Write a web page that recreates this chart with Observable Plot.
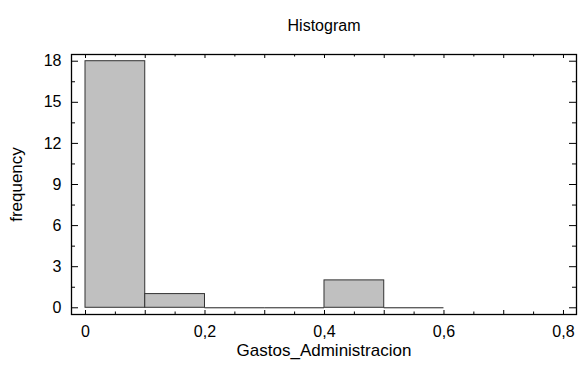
<!DOCTYPE html>
<html>
<head>
<meta charset="utf-8">
<script src="https://cdn.jsdelivr.net/npm/d3@7"></script>
<script src="https://cdn.jsdelivr.net/npm/@observablehq/plot@0.6"></script>
<style>
  html, body { margin: 0; padding: 0; background: #fff; }
  #chart svg { display: block; }
</style>
</head>
<body>
<div id="chart"></div>
<script>
const title = "Histogram";
const xLabel = "Gastos_Administracion";
const yLabel = "frequency";
const binStart = [0, 0.1, 0.2, 0.3, 0.4, 0.5];
const binEnd   = [0.1, 0.2, 0.3, 0.4, 0.5, 0.6];
const counts   = [18, 1, 0, 0, 2, 0];
const xTicks = [0, 0.2, 0.4, 0.6, 0.8];
const yTicks = [0, 3, 6, 9, 12, 15, 18];

const W = 579, H = 368;
const mL = 71, mR = 3, mT = 54, mB = 54;
const fw = W - mL - mR, fh = H - mT - mB;

const bins = binStart.map((s, i) => ({x1: s, x2: binEnd[i], y: counts[i]}));
const zeroBins = bins.filter(d => d.y === 0);
const xMajor = d3.range(0, 0.8001, 0.1).map(d => +d.toFixed(2));
const xMinor = d3.range(0.05, 0.8, 0.1).map(d => +d.toFixed(2));
const yMajor = yTicks;
const yMinor = d3.range(1.5, 18, 3);
const fmt = d => d === 0 ? "0" : String(d).replace(".", ",");

const plot = Plot.plot({
  width: W, height: H,
  marginLeft: mL, marginRight: mR, marginTop: mT, marginBottom: mB,
  style: {fontFamily: "'Liberation Sans', Arial, sans-serif", fontSize: "16px", color: "#000", background: "#fff"},
  x: {domain: [-0.02343, 0.8218]},
  y: {domain: [-0.49, 18.49]},
  marks: [
    Plot.rectY(bins, {x1: "x1", x2: "x2", y: "y", fill: "#c0c0c0", stroke: "#333", strokeWidth: 1}),
    Plot.ruleY(zeroBins, {y: 0, x1: "x1", x2: "x2", stroke: "#222", strokeWidth: 1}),
    Plot.frame({stroke: "#000", strokeWidth: 1.3}),
    // inner ticks bottom/top
    Plot.tickX(xMajor, {x: d => d, insetTop: fh - 4, stroke: "#000"}),
    Plot.tickX(xMinor, {x: d => d, insetTop: fh - 2.5, stroke: "#000"}),
    Plot.tickX(xMajor, {x: d => d, insetBottom: fh - 4, stroke: "#000"}),
    Plot.tickX(xMinor, {x: d => d, insetBottom: fh - 2.5, stroke: "#000"}),
    // inner ticks left/right
    Plot.tickY(yMajor, {y: d => d, insetRight: fw - 7, stroke: "#000"}),
    Plot.tickY(yMinor, {y: d => d, insetRight: fw - 4, stroke: "#000"}),
    Plot.tickY(yMajor, {y: d => d, insetLeft: fw - 7, stroke: "#000"}),
    Plot.tickY(yMinor, {y: d => d, insetLeft: fw - 4, stroke: "#000"}),
    Plot.axisX(xTicks, {tickSize: 0, tickPadding: 11, tickFormat: fmt, label: null, fontSize: 16}),
    Plot.axisY(yTicks, {tickSize: 0, tickPadding: 10, tickFormat: fmt, label: null, fontSize: 16}),
    Plot.text([title], {frameAnchor: "top", dy: -35, fontSize: 16, fill: "#000"}),
    Plot.text([xLabel], {frameAnchor: "bottom", dy: 41, fontSize: 17, fill: "#000"}),
    Plot.text([yLabel], {frameAnchor: "left", textAnchor: "middle", dx: -55, rotate: -90, fontSize: 17, fill: "#000"})
  ]
});
document.getElementById("chart").appendChild(plot);
</script>
</body>
</html>
